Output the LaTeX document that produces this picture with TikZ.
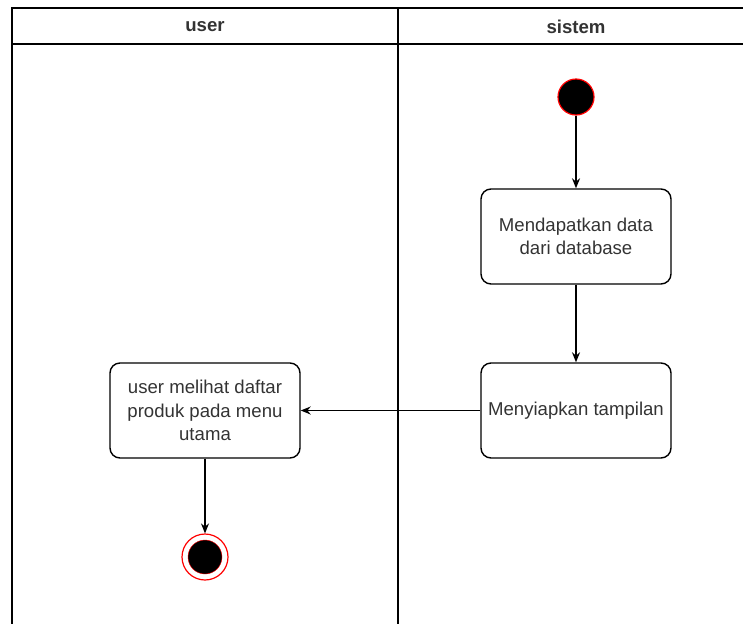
\documentclass[tikz,border=0pt]{standalone}
\usepackage{fontspec}
\setmainfont{Liberation Sans}
\usetikzlibrary{arrows.meta}
\definecolor{txt}{HTML}{333333}
\definecolor{ring}{HTML}{FF0000}
\tikzstyle{act} = [draw, line width=1.4pt, rounded corners=10pt, minimum width=190pt, minimum height=95pt, align=center, text=txt, font=\fontsize{18.6}{23.5}\selectfont, inner sep=2pt]
\tikzstyle{start} = [circle, draw=ring, line width=1.2pt, fill=black, minimum size=36pt, inner sep=0pt]
\tikzstyle{stop} = [circle, draw=ring, line width=1.2pt, fill=white, minimum size=46pt, inner sep=0pt]
\tikzstyle{flow} = [line width=1.4pt, -{Stealth[length=10pt,width=8pt]}]

\begin{document}
\begin{tikzpicture}[x=1pt, y=-1pt]
    \useasboundingbox (0,0) rectangle (743,624);
    % lanes
    \draw[line width=2pt] (743,8) -- (12,8) -- (12,624);
    \draw[line width=2pt] (12,44) -- (743,44);
    \draw[line width=2pt] (398,8) -- (398,624);
    \node (lane1) [font=\fontsize{18.6}{20}\selectfont\bfseries, text=txt] at (205,27) {user};
    \node (lane2) [font=\fontsize{18.6}{20}\selectfont\bfseries, text=txt] at (576,27) {sistem};
    % actions
    \node (s) [start] at (576,97) {};
    \node (ambil) [act] at (576,236.5) {Mendapatkan data\\dari database};
    \node (siap) [act] at (576,410.5) {Menyiapkan tampilan};
    \node (lihat) [act] at (205,410.5) {user melihat daftar\\produk pada menu\\utama};
    \node (e) [stop] at (205,557) {};
    \node [circle, draw=ring, fill=black, minimum size=34pt, inner sep=0pt] at (e) {};
    \draw[flow] (s) -- (ambil);
    \draw[flow] (ambil) -- (siap);
    \draw[flow] (siap) -- (lihat);
    \draw[flow] (lihat) -- (e);
\end{tikzpicture}
\end{document}
